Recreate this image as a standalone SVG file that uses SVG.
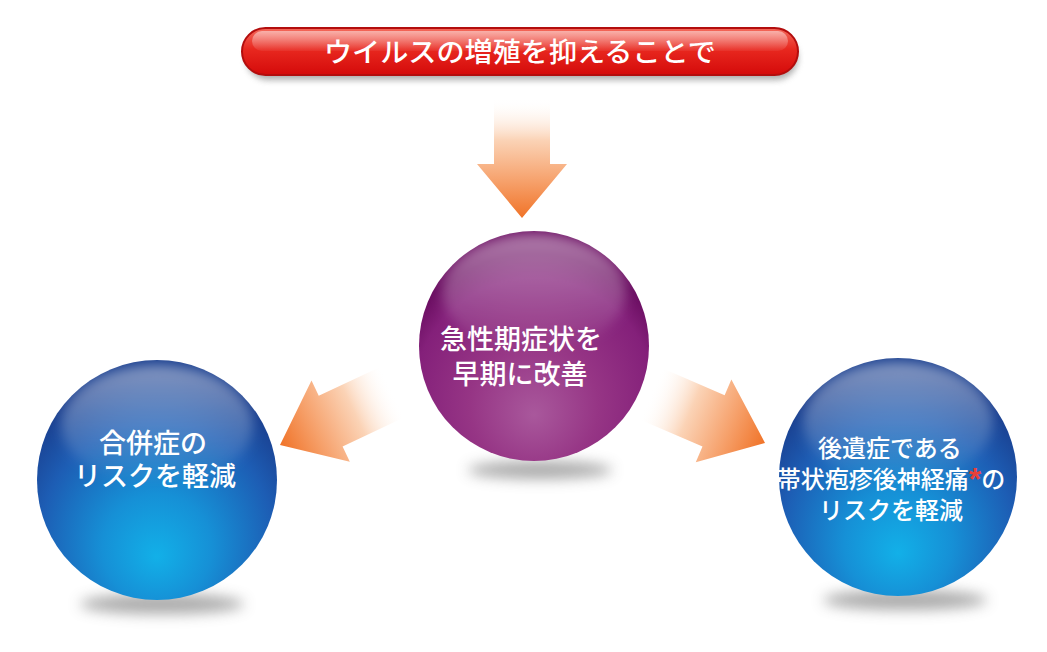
<svg xmlns="http://www.w3.org/2000/svg" width="1047" height="652" viewBox="0 0 1047 652">
<style>
.t{font-family:"Noto Sans CJK JP","Noto Sans",sans-serif;font-weight:500;fill:#fff;text-anchor:middle}
.arrow{fill:url(#arrowGrad)}
.shadow{fill:#555;opacity:0.5;filter:url(#blur)}
.gloss{fill:url(#gloss);filter:url(#soft)}
</style>
<defs>
<filter id="blur" x="-50%" y="-100%" width="200%" height="300%"><feGaussianBlur stdDeviation="7"/></filter>
<filter id="soft" x="-30%" y="-30%" width="160%" height="160%"><feGaussianBlur stdDeviation="6"/></filter>
<filter id="blurS" x="-20%" y="-50%" width="140%" height="200%"><feGaussianBlur stdDeviation="3"/></filter>
<linearGradient id="arrowGrad" x1="0" y1="0" x2="1" y2="0">
<stop offset="0" stop-color="#fff" stop-opacity="0"/>
<stop offset="0.35" stop-color="#fbd3b6"/>
<stop offset="0.7" stop-color="#f6a06a"/>
<stop offset="1" stop-color="#f07328"/>
</linearGradient>
<linearGradient id="pillGrad" x1="0" y1="0" x2="0" y2="1">
<stop offset="0" stop-color="#f46a5c"/>
<stop offset="0.45" stop-color="#e8281f"/>
<stop offset="1" stop-color="#d40a0a"/>
</linearGradient>
<linearGradient id="pillGloss" x1="0" y1="0" x2="0" y2="1">
<stop offset="0" stop-color="#fff" stop-opacity="0.5"/>
<stop offset="1" stop-color="#fff" stop-opacity="0.05"/>
</linearGradient>
<radialGradient id="purpleGrad" cx="0.5" cy="0.72" r="0.62" fx="0.5" fy="0.8">
<stop offset="0" stop-color="#a9589c"/>
<stop offset="0.45" stop-color="#963585"/>
<stop offset="0.85" stop-color="#84207a"/>
<stop offset="1" stop-color="#6c0f63"/>
</radialGradient>
<radialGradient id="blueGrad" cx="0.5" cy="0.72" r="0.65" fx="0.5" fy="0.82">
<stop offset="0" stop-color="#12b0e8"/>
<stop offset="0.35" stop-color="#1690d6"/>
<stop offset="0.75" stop-color="#1d5db4"/>
<stop offset="1" stop-color="#1a3f8f"/>
</radialGradient>
<linearGradient id="gloss" x1="0" y1="0" x2="0" y2="1">
<stop offset="0" stop-color="#fff" stop-opacity="0.45"/>
<stop offset="1" stop-color="#fff" stop-opacity="0"/>
</linearGradient>
</defs>
<rect width="1047" height="652" fill="#fff"/>

<g id="connectors">
<path class="arrow" transform="translate(522,218) rotate(90)" d="M0 0 L-54 -45 L-54 -28 L-120 -28 L-120 28 L-54 28 L-54 45 Z"/>
<path class="arrow" transform="translate(280,445) rotate(154.8)" d="M0 0 L-56 -45 L-56 -28 L-125 -28 L-125 28 L-56 28 L-56 45 Z"/>
<path class="arrow" transform="translate(765,443) rotate(23.3)" d="M0 0 L-56 -45 L-56 -28 L-125 -28 L-125 28 L-56 28 L-56 45 Z"/>
</g>

<g id="top-banner">
<rect x="246" y="36" width="552" height="44" rx="22" fill="#777" opacity="0.6" filter="url(#blurS)"/>
<rect x="242" y="28" width="556" height="47" rx="23.5" fill="url(#pillGrad)" stroke="#b30d0d" stroke-width="2"/>
<rect x="252" y="31" width="536" height="20" rx="10" fill="url(#pillGloss)"/>
<text class="t" x="520" y="62" font-size="27" textLength="392" lengthAdjust="spacingAndGlyphs">ウイルスの増殖を抑えることで</text>
</g>

<g id="node-center">
<ellipse class="shadow" cx="540" cy="470" rx="72" ry="9"/>
<circle cx="534" cy="346" r="115" fill="url(#purpleGrad)"/>
<ellipse class="gloss" cx="534" cy="292" rx="92" ry="58"/>
<text class="t" x="521" y="349" font-size="27">急性期症状を</text>
<text class="t" x="520" y="384" font-size="27">早期に改善</text>
</g>

<g id="node-left">
<ellipse class="shadow" cx="162" cy="604" rx="82" ry="10"/>
<circle cx="157" cy="480" r="120" fill="url(#blueGrad)"/>
<ellipse class="gloss" cx="157" cy="425" rx="96" ry="60"/>
<text class="t" x="153" y="453" font-size="27">合併症の</text>
<text class="t" x="155" y="486" font-size="27">リスクを軽減</text>
</g>

<g id="node-right">
<ellipse class="shadow" cx="905" cy="600" rx="82" ry="10"/>
<circle cx="898" cy="477" r="119" fill="url(#blueGrad)"/>
<ellipse class="gloss" cx="898" cy="422" rx="95" ry="60"/>
<text class="t" x="890" y="457" font-size="24">後遺症である</text>
<text class="t" x="891" y="488" font-size="24">帯状疱疹後神経痛<tspan fill="#e8403a" font-family="Liberation Sans, sans-serif" font-weight="bold" font-size="32" dy="2">*</tspan><tspan dy="-2">の</tspan></text>
<text class="t" x="891" y="519" font-size="24">リスクを軽減</text>
</g>
</svg>
